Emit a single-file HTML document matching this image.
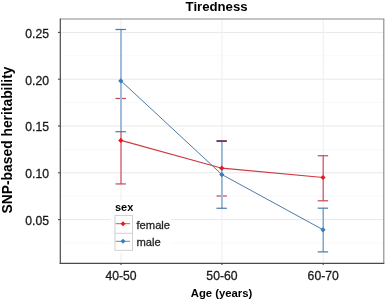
<!DOCTYPE html>
<html><head><meta charset="utf-8"><style>
html,body{margin:0;padding:0;background:#fff;}
svg{display:block;will-change:transform;font-family:"Liberation Sans",sans-serif;}
</style></head><body>
<svg width="386" height="301" viewBox="0 0 386 301">
<rect x="0" y="0" width="386" height="301" fill="#fff"/>
<line x1="60.5" x2="383.5" y1="243.00" y2="243.00" stroke="#F9F9F9" stroke-width="1"/>
<line x1="60.5" x2="383.5" y1="196.20" y2="196.20" stroke="#F9F9F9" stroke-width="1"/>
<line x1="60.5" x2="383.5" y1="149.40" y2="149.40" stroke="#F9F9F9" stroke-width="1"/>
<line x1="60.5" x2="383.5" y1="102.60" y2="102.60" stroke="#F9F9F9" stroke-width="1"/>
<line x1="60.5" x2="383.5" y1="55.80" y2="55.80" stroke="#F9F9F9" stroke-width="1"/>
<line x1="60.5" x2="383.5" y1="219.60" y2="219.60" stroke="#E8E8E8" stroke-width="1"/>
<line x1="60.5" x2="383.5" y1="172.80" y2="172.80" stroke="#E8E8E8" stroke-width="1"/>
<line x1="60.5" x2="383.5" y1="126.00" y2="126.00" stroke="#E8E8E8" stroke-width="1"/>
<line x1="60.5" x2="383.5" y1="79.20" y2="79.20" stroke="#E8E8E8" stroke-width="1"/>
<line x1="60.5" x2="383.5" y1="32.40" y2="32.40" stroke="#E8E8E8" stroke-width="1"/>
<line x1="121.0" x2="121.0" y1="19.0" y2="263.4" stroke="#EDEDED" stroke-width="1"/>
<line x1="221.95" x2="221.95" y1="19.0" y2="263.4" stroke="#EDEDED" stroke-width="1"/>
<line x1="323.2" x2="323.2" y1="19.0" y2="263.4" stroke="#EDEDED" stroke-width="1"/>
<line x1="121.0" x2="121.0" y1="98.48" y2="183.94" stroke="#D44A58" stroke-width="1.2"/>
<line x1="115.50" x2="125.90" y1="183.94" y2="183.94" stroke="#C4485A" stroke-width="1.2"/>
<line x1="115.50" x2="125.90" y1="98.48" y2="98.48" stroke="#C4485A" stroke-width="1.2"/>
<line x1="221.95" x2="221.95" y1="140.51" y2="196.01" stroke="#D44A58" stroke-width="1.2"/>
<line x1="216.45" x2="226.85" y1="196.01" y2="196.01" stroke="#C4485A" stroke-width="1.2"/>
<line x1="323.2" x2="323.2" y1="155.76" y2="200.79" stroke="#D44A58" stroke-width="1.2"/>
<line x1="317.70" x2="328.10" y1="200.79" y2="200.79" stroke="#C4485A" stroke-width="1.2"/>
<line x1="317.70" x2="328.10" y1="155.76" y2="155.76" stroke="#C4485A" stroke-width="1.2"/>
<line x1="121.0" x2="121.0" y1="29.50" y2="131.71" stroke="#fff" stroke-width="2"/>
<line x1="121.0" x2="121.0" y1="29.50" y2="131.71" stroke="#5E90C2" stroke-width="1.2"/>
<line x1="115.50" x2="125.90" y1="131.71" y2="131.71" stroke="#4A78A8" stroke-width="1.2"/>
<line x1="115.50" x2="125.90" y1="29.50" y2="29.50" stroke="#4A78A8" stroke-width="1.2"/>
<line x1="221.95" x2="221.95" y1="141.44" y2="208.27" stroke="#fff" stroke-width="2"/>
<line x1="221.95" x2="221.95" y1="141.44" y2="208.27" stroke="#5E90C2" stroke-width="1.2"/>
<line x1="216.45" x2="226.85" y1="208.27" y2="208.27" stroke="#4A78A8" stroke-width="1.2"/>
<line x1="323.2" x2="323.2" y1="208.18" y2="251.89" stroke="#fff" stroke-width="2"/>
<line x1="323.2" x2="323.2" y1="208.18" y2="251.89" stroke="#5E90C2" stroke-width="1.2"/>
<line x1="317.70" x2="328.10" y1="251.89" y2="251.89" stroke="#4A78A8" stroke-width="1.2"/>
<line x1="317.70" x2="328.10" y1="208.18" y2="208.18" stroke="#4A78A8" stroke-width="1.2"/>
<rect x="216.45" y="140.1" width="10.40" height="1.9" fill="#763864"/>
<polyline points="121.0,140.41 221.95,168.21 323.2,177.48" fill="none" stroke="#CC3A44" stroke-width="1.2"/>
<polyline points="121.0,80.88 221.95,174.58 323.2,229.80" fill="none" stroke="#4F79A5" stroke-width="1.0"/>
<path d="M120.80,137.81L123.40,140.41L120.80,143.01L118.20,140.41Z" fill="#E41A1C"/>
<path d="M221.75,165.61L224.35,168.21L221.75,170.81L219.15,168.21Z" fill="#E41A1C"/>
<path d="M323.00,174.88L325.60,177.48L323.00,180.08L320.40,177.48Z" fill="#E41A1C"/>
<path d="M120.80,78.28L123.40,80.88L120.80,83.48L118.20,80.88Z" fill="#377EB8"/>
<path d="M221.75,171.98L224.35,174.58L221.75,177.18L219.15,174.58Z" fill="#377EB8"/>
<path d="M323.00,227.20L325.60,229.80L323.00,232.40L320.40,229.80Z" fill="#377EB8"/>
<line x1="60.5" x2="384.3" y1="19.0" y2="19.0" stroke="#8A8A8A" stroke-width="1"/>
<line x1="383.8" x2="383.8" y1="19.0" y2="263.4" stroke="#868686" stroke-width="1.1"/>
<line x1="60.3" x2="60.3" y1="18.5" y2="264.0" stroke="#4a4a4a" stroke-width="1.2"/>
<line x1="59.7" x2="384.3" y1="263.4" y2="263.4" stroke="#4a4a4a" stroke-width="1.2"/>
<line x1="58.0" x2="60.5" y1="219.60" y2="219.60" stroke="#4a4a4a" stroke-width="1.1"/>
<text x="49" y="224.95" text-anchor="end" font-size="12.2" fill="#1a1a1a" stroke="#1a1a1a" stroke-width="0.3">0.05</text>
<line x1="58.0" x2="60.5" y1="172.80" y2="172.80" stroke="#4a4a4a" stroke-width="1.1"/>
<text x="49" y="178.15" text-anchor="end" font-size="12.2" fill="#1a1a1a" stroke="#1a1a1a" stroke-width="0.3">0.10</text>
<line x1="58.0" x2="60.5" y1="126.00" y2="126.00" stroke="#4a4a4a" stroke-width="1.1"/>
<text x="49" y="131.35" text-anchor="end" font-size="12.2" fill="#1a1a1a" stroke="#1a1a1a" stroke-width="0.3">0.15</text>
<line x1="58.0" x2="60.5" y1="79.20" y2="79.20" stroke="#4a4a4a" stroke-width="1.1"/>
<text x="49" y="84.55" text-anchor="end" font-size="12.2" fill="#1a1a1a" stroke="#1a1a1a" stroke-width="0.3">0.20</text>
<line x1="58.0" x2="60.5" y1="32.40" y2="32.40" stroke="#4a4a4a" stroke-width="1.1"/>
<text x="49" y="37.75" text-anchor="end" font-size="12.2" fill="#1a1a1a" stroke="#1a1a1a" stroke-width="0.3">0.25</text>
<line x1="121.0" x2="121.0" y1="263.4" y2="265.0" stroke="#4a4a4a" stroke-width="1.1"/>
<text x="121.0" y="280.1" text-anchor="middle" font-size="12.2" fill="#1a1a1a" stroke="#1a1a1a" stroke-width="0.3">40-50</text>
<line x1="221.95" x2="221.95" y1="263.4" y2="265.0" stroke="#4a4a4a" stroke-width="1.1"/>
<text x="221.95" y="280.1" text-anchor="middle" font-size="12.2" fill="#1a1a1a" stroke="#1a1a1a" stroke-width="0.3">50-60</text>
<line x1="323.2" x2="323.2" y1="263.4" y2="265.0" stroke="#4a4a4a" stroke-width="1.1"/>
<text x="323.2" y="280.1" text-anchor="middle" font-size="12.2" fill="#1a1a1a" stroke="#1a1a1a" stroke-width="0.3">60-70</text>
<text x="216.6" y="10.9" text-anchor="middle" font-size="13.2" font-weight="bold" fill="#000">Tiredness</text>
<text x="221.5" y="297.1" text-anchor="middle" font-size="11.3" font-weight="bold" fill="#000">Age (years)</text>
<text transform="translate(12.1,140.0) rotate(-90)" x="0" y="0" text-anchor="middle" font-size="13.85" font-weight="bold" fill="#000">SNP-based heritability</text>
<rect x="110.5" y="200" width="61" height="52.5" fill="#fff"/>
<text x="115" y="211.3" font-size="11" font-weight="bold" fill="#000">sex</text>
<rect x="115" y="215.5" width="17.5" height="34.8" fill="#fff" stroke="#D0D0D0" stroke-width="1"/>
<line x1="115" x2="132.5" y1="233.3" y2="233.3" stroke="#D0D0D0" stroke-width="1"/>
<line x1="115.7" x2="130.0" y1="223.7" y2="223.7" stroke="#E05060" stroke-width="1"/>
<path d="M123.0,221.2L125.5,223.7L123.0,226.2L120.5,223.7Z" fill="#E41A1C"/>
<text x="136.5" y="228.70" font-size="11.2" fill="#262626" stroke="#262626" stroke-width="0.3">female</text>
<line x1="115.7" x2="130.0" y1="241.3" y2="241.3" stroke="#5E90C4" stroke-width="1"/>
<path d="M123.0,238.8L125.5,241.3L123.0,243.8L120.5,241.3Z" fill="#377EB8"/>
<text x="136.5" y="246.30" font-size="11.2" fill="#262626" stroke="#262626" stroke-width="0.3">male</text>
</svg>
</body></html>
